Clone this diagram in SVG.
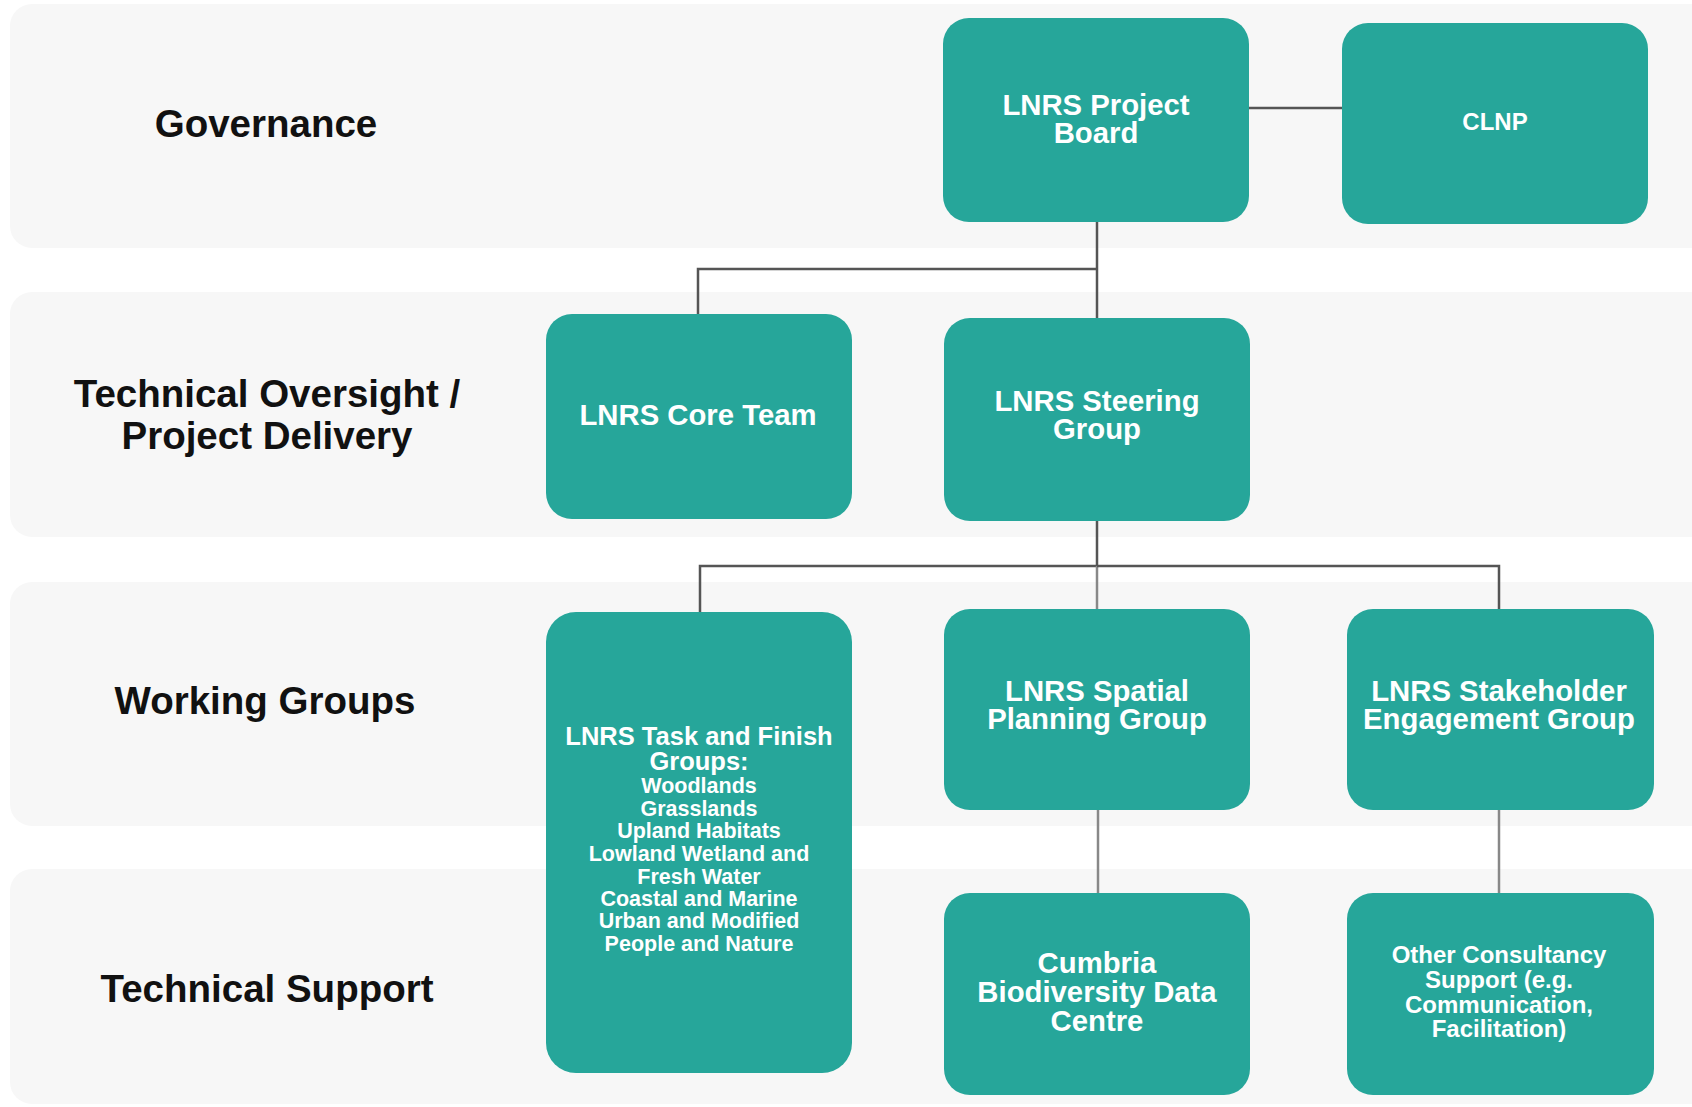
<svg xmlns="http://www.w3.org/2000/svg" width="1692" height="1107" viewBox="0 0 1692 1107">
<style>
.band{fill:#f7f7f7}
.node{fill:#26a69a}
.lbl{font-family:"Liberation Sans",Arial,sans-serif;font-weight:bold;font-size:38.5px;fill:#111;text-anchor:middle}
.nt{font-family:"Liberation Sans",Arial,sans-serif;font-weight:bold;font-size:29.3px;fill:#fff;text-anchor:middle}
.ns{font-family:"Liberation Sans",Arial,sans-serif;font-weight:bold;font-size:24px;fill:#fff;text-anchor:middle}
.nx{font-family:"Liberation Sans",Arial,sans-serif;font-weight:bold;font-size:21.5px;fill:#fff;text-anchor:middle}
.c{fill:none;stroke:#555;stroke-width:2.5}
.c2{fill:none;stroke:#888;stroke-width:2.5}
</style>
<rect width="1692" height="1107" fill="#ffffff"/>
<g id="bands">
<rect class="band" x="10" y="4" width="1720" height="244" rx="22"/>
<rect class="band" x="10" y="292" width="1720" height="245" rx="22"/>
<rect class="band" x="10" y="582" width="1720" height="244" rx="22"/>
<rect class="band" x="10" y="869" width="1720" height="235" rx="22"/>
</g>
<g id="labels">
<text class="lbl" x="266" y="137">Governance</text>
<text class="lbl" x="267" y="407">Technical Oversight /</text>
<text class="lbl" x="267" y="449">Project Delivery</text>
<text class="lbl" x="265" y="714">Working Groups</text>
<text class="lbl" x="267" y="1002">Technical Support</text>
</g>
<g id="connectors">
<path class="c" d="M1249,108 H1342"/>
<path class="c" d="M1097,222 V318"/>
<path class="c" d="M1097,269 H698 V315"/>
<path class="c" d="M1097,521 V566 H700 V613"/>
<path class="c2" d="M1097,566 V610"/>
<path class="c" d="M1097,566 H1499 V609"/>
<path class="c2" d="M1098,810 V893"/>
<path class="c2" d="M1499,810 V893"/>
</g>
<g id="n-project-board">
<rect class="node" x="943" y="18" width="306" height="204" rx="26"/>
<text class="nt" x="1096" y="115">LNRS Project</text>
<text class="nt" x="1096" y="143">Board</text>
</g>
<g id="n-clnp">
<rect class="node" x="1342" y="23" width="306" height="201" rx="26"/>
<text class="ns" x="1495" y="130">CLNP</text>
</g>
<g id="n-core-team">
<rect class="node" x="546" y="314" width="306" height="205" rx="26"/>
<text class="nt" x="698" y="425">LNRS Core Team</text>
</g>
<g id="n-steering">
<rect class="node" x="944" y="318" width="306" height="203" rx="26"/>
<text class="nt" x="1097" y="411">LNRS Steering</text>
<text class="nt" x="1097" y="439">Group</text>
</g>
<g id="n-task-finish">
<rect class="node" x="546" y="612" width="306" height="461" rx="30"/>
<text class="ns" x="699" y="745" style="font-size:25.5px">LNRS Task and Finish</text>
<text class="ns" x="699" y="770" style="font-size:25.5px">Groups:</text>
<text class="nx" x="699" y="793">Woodlands</text>
<text class="nx" x="699" y="816">Grasslands</text>
<text class="nx" x="699" y="838">Upland Habitats</text>
<text class="nx" x="699" y="861">Lowland Wetland and</text>
<text class="nx" x="699" y="884">Fresh Water</text>
<text class="nx" x="699" y="906">Coastal and Marine</text>
<text class="nx" x="699" y="928">Urban and Modified</text>
<text class="nx" x="699" y="951">People and Nature</text>
</g>
<g id="n-spatial">
<rect class="node" x="944" y="609" width="306" height="201" rx="26"/>
<text class="nt" x="1097" y="701">LNRS Spatial</text>
<text class="nt" x="1097" y="729">Planning Group</text>
</g>
<g id="n-stakeholder">
<rect class="node" x="1347" y="609" width="307" height="201" rx="26"/>
<text class="nt" x="1499" y="701">LNRS Stakeholder</text>
<text class="nt" x="1499" y="729">Engagement Group</text>
</g>
<g id="n-cumbria">
<rect class="node" x="944" y="893" width="306" height="202" rx="26"/>
<text class="nt" x="1097" y="973">Cumbria</text>
<text class="nt" x="1097" y="1002">Biodiversity Data</text>
<text class="nt" x="1097" y="1031">Centre</text>
</g>
<g id="n-other">
<rect class="node" x="1347" y="893" width="307" height="202" rx="26"/>
<text class="ns" x="1499" y="963">Other Consultancy</text>
<text class="ns" x="1499" y="988">Support (e.g.</text>
<text class="ns" x="1499" y="1013">Communication,</text>
<text class="ns" x="1499" y="1037">Facilitation)</text>
</g>
</svg>
